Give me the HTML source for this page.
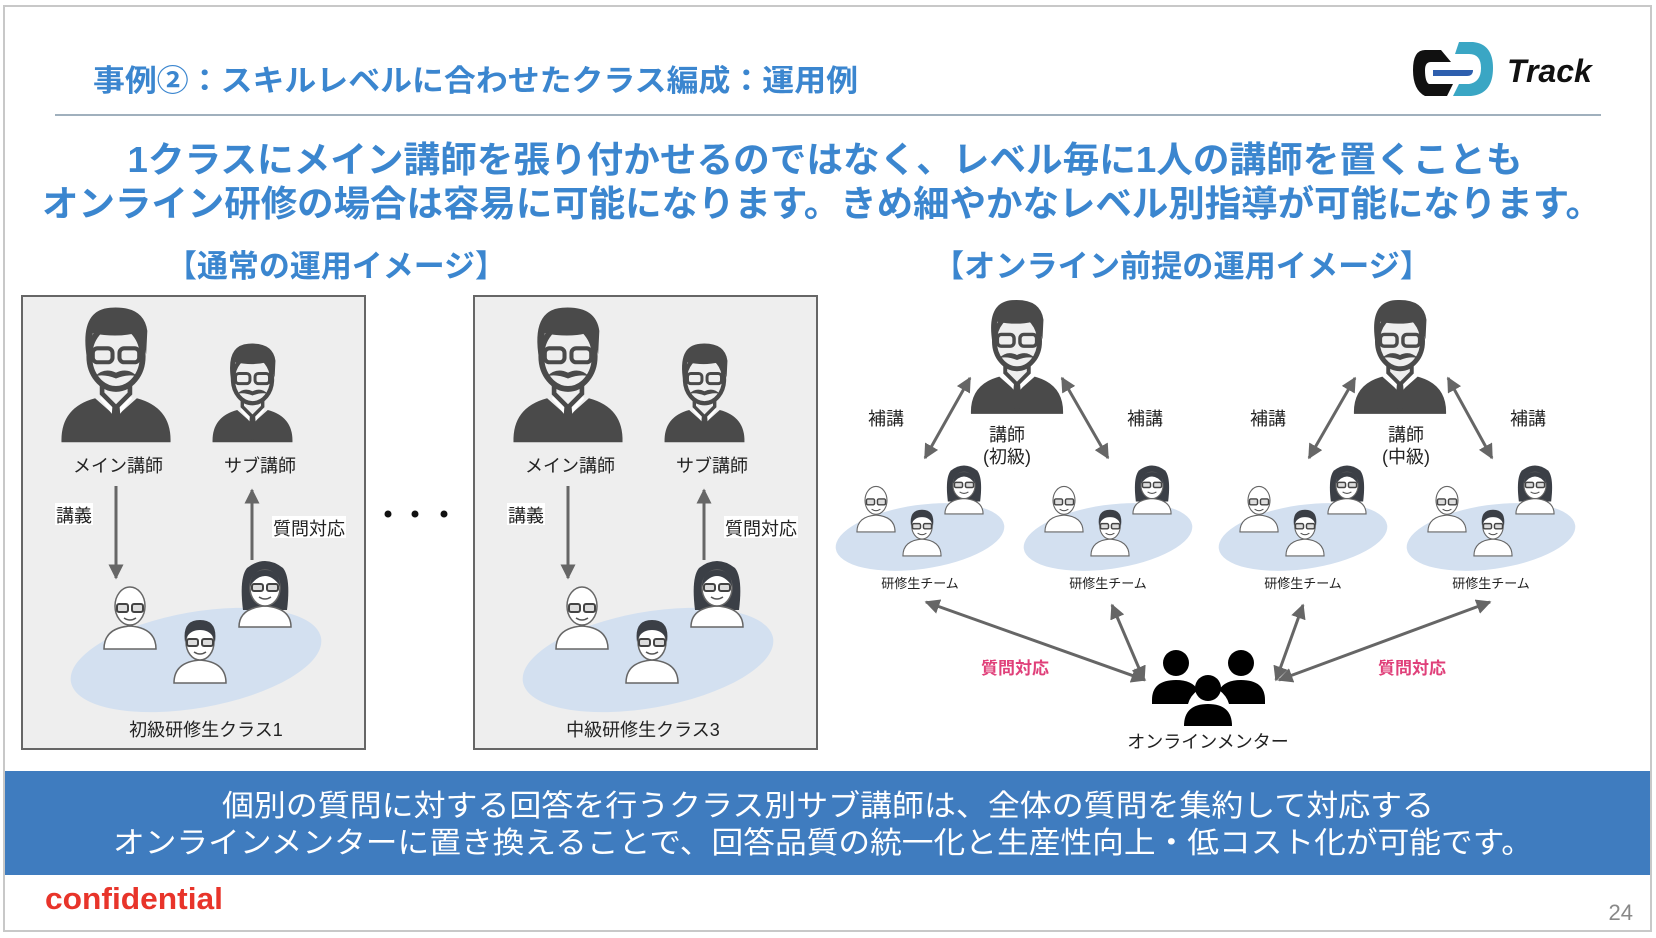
<!DOCTYPE html>
<html><head><meta charset="utf-8"><style>
html,body{margin:0;padding:0;background:#fff;}
svg{display:block;font-family:"Liberation Sans","Noto Sans CJK JP",sans-serif;}
</style></head><body>
<svg width="1656" height="938" viewBox="0 0 1656 938" xmlns="http://www.w3.org/2000/svg">
<defs>
<symbol id="teacher" viewBox="0 0 100 120">
  <path d="M3,118 Q2,88 32,80 L50,96 L68,80 Q98,88 97,118 Z" fill="#4a4a4a"/>
  <path d="M36,80 L50,98 L64,80 L58,72 L42,72 Z" fill="#fff"/>
  <path d="M47,86 L53,86 L55,110 L50,116 L45,110 Z" fill="#4a4a4a"/>
  <path d="M38,60 L38,76 L50,88 L62,76 L62,60 Z" fill="#eee" stroke="#4a4a4a" stroke-width="4"/>
  <ellipse cx="50" cy="44" rx="23" ry="28" fill="#eee" stroke="#4a4a4a" stroke-width="5"/>
  <path d="M25,46 Q18,4 45,2 Q74,0 77,22 L76,42 Q72,26 66,24 Q50,28 30,24 Z" fill="#4a4a4a"/>
  <rect x="30" y="37" width="17" height="12" rx="4" fill="none" stroke="#4a4a4a" stroke-width="3.5"/>
  <rect x="53" y="37" width="17" height="12" rx="4" fill="none" stroke="#4a4a4a" stroke-width="3.5"/>
  <path d="M32,61 Q40,53 50,58 Q60,53 68,61 Q60,59 50,63 Q40,59 32,61 Z" fill="#4a4a4a"/>
</symbol>
<symbol id="bald" viewBox="0 0 60 70">
  <path d="M4,69 Q4,48 30,46 Q56,48 56,69 Z" fill="#fff" stroke="#666" stroke-width="1.5"/>
  <ellipse cx="30" cy="26" rx="15" ry="19" fill="#fff" stroke="#666" stroke-width="1.5"/>
  <rect x="17" y="24" width="11" height="8" rx="2" fill="#ddd" stroke="#444" stroke-width="2"/>
  <rect x="32" y="24" width="11" height="8" rx="2" fill="#ddd" stroke="#444" stroke-width="2"/>
  <path d="M24,38 Q30,42 36,38" fill="none" stroke="#555" stroke-width="1.5"/>
</symbol>
<symbol id="boy" viewBox="0 0 60 70">
  <path d="M4,69 Q4,48 30,46 Q56,48 56,69 Z" fill="#fff" stroke="#666" stroke-width="1.5"/>
  <ellipse cx="30" cy="28" rx="14" ry="18" fill="#fff" stroke="#666" stroke-width="1.5"/>
  <path d="M15,28 Q12,6 30,6 Q48,6 45,28 Q42,16 30,16 Q18,16 15,28 Z" fill="#3b3f46"/>
  <rect x="17" y="25" width="11" height="7" rx="2" fill="#ddd" stroke="#444" stroke-width="2"/>
  <rect x="32" y="25" width="11" height="7" rx="2" fill="#ddd" stroke="#444" stroke-width="2"/>
  <path d="M24,38 Q30,42 36,38" fill="none" stroke="#555" stroke-width="1.5"/>
</symbol>
<symbol id="girl" viewBox="0 0 60 70">
  <path d="M8,52 Q4,20 12,10 Q30,-4 48,10 Q56,20 52,52 Z" fill="#3b3f46"/>
  <path d="M4,69 Q4,50 30,48 Q56,50 56,69 Z" fill="#fff" stroke="#666" stroke-width="1.5"/>
  <ellipse cx="30" cy="30" rx="15" ry="18" fill="#fff" stroke="#666" stroke-width="1.5"/>
  <path d="M15,28 Q16,12 30,12 Q44,12 45,28 Q38,18 30,18 Q22,18 15,28 Z" fill="#3b3f46"/>
  <rect x="17" y="26" width="11" height="7" rx="2" fill="#ddd" stroke="#444" stroke-width="2"/>
  <rect x="32" y="26" width="11" height="7" rx="2" fill="#ddd" stroke="#444" stroke-width="2"/>
  <path d="M24,39 Q30,43 36,39" fill="none" stroke="#555" stroke-width="1.5"/>
</symbol>
<marker id="ah" viewBox="0 0 10 10" refX="9" refY="5" markerWidth="5" markerHeight="5" orient="auto-start-reverse">
  <path d="M0,0 L10,5 L0,10 Z" fill="#666"/>
</marker>
</defs>

<rect x="4" y="6" width="1647" height="925" fill="#fff" stroke="#c8c8c8" stroke-width="2"/>

<text x="93" y="91" font-size="30" font-weight="bold" fill="#3b86cf" textLength="765" lengthAdjust="spacingAndGlyphs">事例②：スキルレベルに合わせたクラス編成：運用例</text>
<line x1="55" y1="115" x2="1601" y2="115" stroke="#a0b0bd" stroke-width="2"/>

<!-- logo -->
<g transform="translate(1411,40)">
  <path d="M30,10 L14,10 Q2,10 2,30 Q2,50 14,56 L36,56 L42,44 L18,44 Q14,42 14,30 Q14,22 20,22 L40,22 Z" fill="#111"/>
  <path d="M48,2 L62,2 Q82,4 82,28 Q82,54 60,56 L42,56 L48,44 L58,44 Q70,42 70,28 Q70,14 58,14 L44,14 Z" fill="#3aa6c4"/>
  <path d="M22,30 L62,30 Q62,36 56,36 L22,36 Z" fill="#2e5fae"/>
  <text x="96" y="42" font-size="32" font-weight="bold" font-style="italic" fill="#111">Track</text>
</g>

<text x="825" y="172" font-size="36" font-weight="bold" fill="#3b86cf" text-anchor="middle" textLength="1395" lengthAdjust="spacingAndGlyphs">1クラスにメイン講師を張り付かせるのではなく、レベル毎に1人の講師を置くことも</text>
<text x="822" y="216" font-size="36" font-weight="bold" fill="#3b86cf" text-anchor="middle" textLength="1560" lengthAdjust="spacingAndGlyphs">オンライン研修の場合は容易に可能になります。きめ細やかなレベル別指導が可能になります。</text>

<text x="336" y="277" font-size="31" font-weight="bold" fill="#3b86cf" text-anchor="middle" textLength="340" lengthAdjust="spacingAndGlyphs">【通常の運用イメージ】</text>
<text x="1182" y="277" font-size="31" font-weight="bold" fill="#3b86cf" text-anchor="middle" textLength="498" lengthAdjust="spacingAndGlyphs">【オンライン前提の運用イメージ】</text>

<!-- class boxes -->
<g id="box1">
  <rect x="22" y="296" width="343" height="453" fill="#eeeeee" stroke="#666" stroke-width="2"/>
  <use href="#teacher" x="58" y="305" width="116" height="140"/>
  <use href="#teacher" x="210" y="342" width="85" height="102"/>
  <text x="118" y="472" font-size="18" text-anchor="middle" fill="#222">メイン講師</text>
  <text x="260" y="472" font-size="18" text-anchor="middle" fill="#222">サブ講師</text>
  <line x1="116" y1="486" x2="116" y2="578" stroke="#666" stroke-width="3" marker-end="url(#ah)"/>
  <line x1="252" y1="560" x2="252" y2="490" stroke="#666" stroke-width="3" marker-end="url(#ah)"/>
  <rect x="55" y="503" width="38" height="22" fill="#fff"/>
  <text x="74" y="522" font-size="18" text-anchor="middle" fill="#222">講義</text>
  <rect x="272" y="516" width="74" height="22" fill="#fff"/>
  <text x="309" y="535" font-size="18" text-anchor="middle" fill="#222">質問対応</text>
  <ellipse cx="196" cy="660" rx="127" ry="48" transform="rotate(-10 196 660)" fill="#d3e0f0"/>
  <use href="#bald" x="100" y="578" width="60" height="74"/>
  <use href="#boy" x="170" y="612" width="60" height="74"/>
  <use href="#girl" x="235" y="556" width="60" height="74"/>
  <text x="206" y="736" font-size="18" text-anchor="middle" fill="#222">初級研修生クラス1</text>
</g>
<g transform="translate(452,0)">
  <rect x="22" y="296" width="343" height="453" fill="#eeeeee" stroke="#666" stroke-width="2"/>
  <use href="#teacher" x="58" y="305" width="116" height="140"/>
  <use href="#teacher" x="210" y="342" width="85" height="102"/>
  <text x="118" y="472" font-size="18" text-anchor="middle" fill="#222">メイン講師</text>
  <text x="260" y="472" font-size="18" text-anchor="middle" fill="#222">サブ講師</text>
  <line x1="116" y1="486" x2="116" y2="578" stroke="#666" stroke-width="3" marker-end="url(#ah)"/>
  <line x1="252" y1="560" x2="252" y2="490" stroke="#666" stroke-width="3" marker-end="url(#ah)"/>
  <rect x="55" y="503" width="38" height="22" fill="#fff"/>
  <text x="74" y="522" font-size="18" text-anchor="middle" fill="#222">講義</text>
  <rect x="272" y="516" width="74" height="22" fill="#fff"/>
  <text x="309" y="535" font-size="18" text-anchor="middle" fill="#222">質問対応</text>
  <ellipse cx="196" cy="660" rx="127" ry="48" transform="rotate(-10 196 660)" fill="#d3e0f0"/>
  <use href="#bald" x="100" y="578" width="60" height="74"/>
  <use href="#boy" x="170" y="612" width="60" height="74"/>
  <use href="#girl" x="235" y="556" width="60" height="74"/>
  <text x="191" y="736" font-size="18" text-anchor="middle" fill="#222">中級研修生クラス3</text>
</g>
<circle cx="388" cy="514" r="3.5" fill="#111"/>
<circle cx="415" cy="514" r="3.5" fill="#111"/>
<circle cx="444" cy="514" r="3.5" fill="#111"/>

<!-- right side -->
<use href="#teacher" x="968" y="298" width="98" height="118"/>
<use href="#teacher" x="1351" y="298" width="98" height="118"/>
<text x="1007" y="441" font-size="18" text-anchor="middle" fill="#222">講師</text>
<text x="1007" y="463" font-size="18" text-anchor="middle" fill="#222">(初級)</text>
<text x="1406" y="441" font-size="18" text-anchor="middle" fill="#222">講師</text>
<text x="1406" y="463" font-size="18" text-anchor="middle" fill="#222">(中級)</text>
<text x="886" y="425" font-size="18" text-anchor="middle" fill="#222">補講</text>
<text x="1145" y="425" font-size="18" text-anchor="middle" fill="#222">補講</text>
<text x="1268" y="425" font-size="18" text-anchor="middle" fill="#222">補講</text>
<text x="1528" y="425" font-size="18" text-anchor="middle" fill="#222">補講</text>
<g stroke="#666" stroke-width="3" marker-start="url(#ah)" marker-end="url(#ah)">
  <line x1="970" y1="378" x2="925" y2="458"/>
  <line x1="1062" y1="378" x2="1108" y2="458"/>
  <line x1="1355" y1="378" x2="1309" y2="458"/>
  <line x1="1448" y1="378" x2="1492" y2="458"/>
  <line x1="926" y1="602" x2="1145" y2="680"/>
  <line x1="1112" y1="605" x2="1144" y2="680"/>
  <line x1="1303" y1="605" x2="1276" y2="680"/>
  <line x1="1490" y1="602" x2="1279" y2="680"/>
</g>

<g id="team1">
  <ellipse cx="920" cy="537" rx="85" ry="32" transform="rotate(-8 920 537)" fill="#d3e0f0"/>
  <use href="#bald" x="854" y="480" width="44" height="54"/>
  <use href="#boy" x="900" y="504" width="44" height="54"/>
  <use href="#girl" x="942" y="462" width="44" height="54"/>
  <text x="920" y="588" font-size="13" text-anchor="middle" fill="#222">研修生チーム</text>
</g>
<g transform="translate(188,0)">
  <ellipse cx="920" cy="537" rx="85" ry="32" transform="rotate(-8 920 537)" fill="#d3e0f0"/>
  <use href="#bald" x="854" y="480" width="44" height="54"/>
  <use href="#boy" x="900" y="504" width="44" height="54"/>
  <use href="#girl" x="942" y="462" width="44" height="54"/>
  <text x="920" y="588" font-size="13" text-anchor="middle" fill="#222">研修生チーム</text>
</g>
<g transform="translate(383,0)">
  <ellipse cx="920" cy="537" rx="85" ry="32" transform="rotate(-8 920 537)" fill="#d3e0f0"/>
  <use href="#bald" x="854" y="480" width="44" height="54"/>
  <use href="#boy" x="900" y="504" width="44" height="54"/>
  <use href="#girl" x="942" y="462" width="44" height="54"/>
  <text x="920" y="588" font-size="13" text-anchor="middle" fill="#222">研修生チーム</text>
</g>
<g transform="translate(571,0)">
  <ellipse cx="920" cy="537" rx="85" ry="32" transform="rotate(-8 920 537)" fill="#d3e0f0"/>
  <use href="#bald" x="854" y="480" width="44" height="54"/>
  <use href="#boy" x="900" y="504" width="44" height="54"/>
  <use href="#girl" x="942" y="462" width="44" height="54"/>
  <text x="920" y="588" font-size="13" text-anchor="middle" fill="#222">研修生チーム</text>
</g>

<text x="1015" y="674" font-size="17" font-weight="bold" text-anchor="middle" fill="#e0407a">質問対応</text>
<text x="1412" y="674" font-size="17" font-weight="bold" text-anchor="middle" fill="#e0407a">質問対応</text>

<!-- mentor icon -->
<g fill="#000">
  <circle cx="1176" cy="663" r="13"/>
  <circle cx="1241" cy="663" r="13"/>
  <path d="M1152,700 Q1152,680 1176,680 Q1192,680 1198,690 Q1190,696 1188,704 L1152,704 Z"/>
  <path d="M1265,700 Q1265,680 1241,680 Q1225,680 1219,690 Q1227,696 1229,704 L1265,704 Z"/>
  <circle cx="1208" cy="688" r="13"/>
  <path d="M1184,726 Q1184,704 1208,704 Q1232,704 1232,726 Z"/>
</g>
<text x="1208" y="748" font-size="18" text-anchor="middle" fill="#222">オンラインメンター</text>

<!-- band -->
<rect x="5" y="771" width="1645" height="104" fill="#3f7cbf"/>
<text x="828" y="816" font-size="30" fill="#fff" text-anchor="middle" textLength="1212" lengthAdjust="spacingAndGlyphs">個別の質問に対する回答を行うクラス別サブ講師は、全体の質問を集約して対応する</text>
<text x="823" y="853" font-size="30" fill="#fff" text-anchor="middle" textLength="1420" lengthAdjust="spacingAndGlyphs">オンラインメンターに置き換えることで、回答品質の統一化と生産性向上・低コスト化が可能です。</text>

<text x="45" y="909" font-size="31" font-weight="bold" fill="#e8342a" textLength="178" lengthAdjust="spacingAndGlyphs">confidential</text>
<text x="1633" y="920" font-size="22" fill="#888" text-anchor="end">24</text>
</svg>
</body></html>
